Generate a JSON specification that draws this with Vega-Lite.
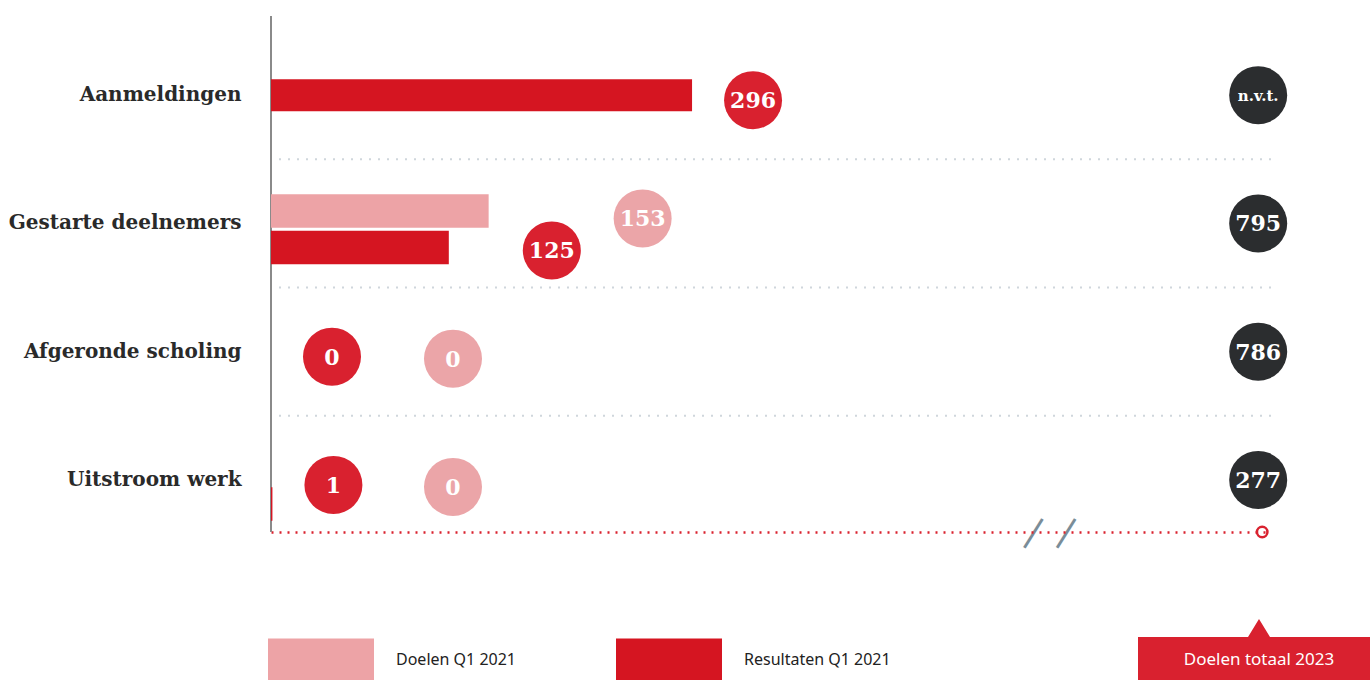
{
  "$schema": "https://vega.github.io/schema/vega-lite/v6.json",
  "width": 1000,
  "height": 516,
  "autosize": {"type": "none"},
  "padding": {"left": 271, "top": 16, "right": 99, "bottom": 148},
  "background": "white",
  "config": {"view": {"stroke": null}, "font": "Noto Sans"},
  "datasets": {
    "q1": [
      {"cat": "Aanmeldingen", "series": "Resultaten Q1 2021", "value": 296},
      {"cat": "Gestarte deelnemers", "series": "Doelen Q1 2021", "value": 153},
      {"cat": "Gestarte deelnemers", "series": "Resultaten Q1 2021", "value": 125},
      {"cat": "Afgeronde scholing", "series": "Doelen Q1 2021", "value": 0},
      {"cat": "Afgeronde scholing", "series": "Resultaten Q1 2021", "value": 0},
      {"cat": "Uitstroom werk", "series": "Doelen Q1 2021", "value": 0},
      {"cat": "Uitstroom werk", "series": "Resultaten Q1 2021", "value": 1}
    ],
    "totals": [
      {"cat": "Aanmeldingen", "total": "n.v.t."},
      {"cat": "Gestarte deelnemers", "total": "795"},
      {"cat": "Afgeronde scholing", "total": "786"},
      {"cat": "Uitstroom werk", "total": "277"}
    ]
  },
  "data": {"name": "q1"},
  "layer": [
    {
      "data": {"name": "totals"},
      "transform": [{"filter": "datum.cat != 'Uitstroom werk'"}],
      "mark": {"type": "rule", "color": "#cfd6dc", "strokeWidth": 2, "strokeDash": [2, 7]},
      "encoding": {
        "y": {"field": "cat", "type": "nominal", "bandPosition": 1}
      }
    },
    {
      "mark": {"type": "rule", "color": "#8a8a8a", "strokeWidth": 1.5},
      "encoding": {
        "x": {"datum": 0, "type": "quantitative"}
      }
    },
    {
      "transform": [{"filter": "datum.cat == 'Aanmeldingen'"}],
      "mark": {"type": "bar", "height": 32},
      "encoding": {
        "y": {"field": "cat", "type": "nominal"},
        "x": {"field": "value", "type": "quantitative"},
        "color": {"field": "series", "type": "nominal"}
      }
    },
    {
      "transform": [{"filter": "datum.cat != 'Aanmeldingen'"}],
      "mark": {"type": "bar"},
      "encoding": {
        "y": {
          "field": "cat", "type": "nominal",
          "sort": ["Aanmeldingen", "Gestarte deelnemers", "Afgeronde scholing", "Uitstroom werk"],
          "scale": {"domain": ["Aanmeldingen", "Gestarte deelnemers", "Afgeronde scholing", "Uitstroom werk"], "range": [15, 528], "paddingInner": 0, "paddingOuter": 0},
          "axis": {
            "title": null, "ticks": false, "domain": false,
            "labelFont": "DejaVu Serif", "labelFontWeight": "bold", "labelFontSize": 20,
            "labelColor": "#2a2a2a", "labelPadding": 30, "labelLimit": 400
          }
        },
        "yOffset": {
          "field": "series", "type": "nominal",
          "scale": {"domain": ["Doelen Q1 2021", "Resultaten Q1 2021"], "range": [35, 105], "paddingInner": 0.086, "paddingOuter": 0}
        },
        "x": {
          "field": "value", "type": "quantitative",
          "scale": {"domain": [0, 703], "nice": false},
          "axis": {
            "title": null, "grid": false, "ticks": false,
            "domainColor": "#d9222f", "domainWidth": 2.5, "domainDash": [2, 6],
            "values": [536, 559],
            "labelExpr": "'|'",
            "labelFont": "DejaVu Sans", "labelFontSize": 34, "labelColor": "#7a8d98",
            "labelAngle": 32, "labelAlign": "center", "labelBaseline": "middle",
            "labelPadding": 0, "labelOverlap": false, "labelFlush": false
          }
        },
        "color": {
          "field": "series", "type": "nominal",
          "scale": {"domain": ["Doelen Q1 2021", "Resultaten Q1 2021"], "range": ["#eda3a6", "#d51521"]},
          "legend": {
            "orient": "none", "legendX": -3, "legendY": 591, "direction": "horizontal",
            "title": null, "padding": 0,
            "symbolType": "M-1,-0.41H1V0.41H-1Z", "symbolSize": 11236,
            "symbolOpacity": 1, "symbolStrokeWidth": 0,
            "labelFont": "Noto Sans", "labelFontSize": 16, "labelColor": "#222222",
            "labelOffset": 22, "columnPadding": 99
          }
        }
      }
    },
    {
      "transform": [{"filter": "datum.series == 'Resultaten Q1 2021' && datum.cat != 'Gestarte deelnemers'"}],
      "encoding": {
        "y": {"field": "cat", "type": "nominal"},
        "x": {"field": "value", "type": "quantitative"}
      },
      "layer": [
        {"mark": {"type": "point", "shape": "circle", "filled": true, "size": 3364, "color": "#d9212f", "xOffset": 61, "yOffset": 5},
         "encoding": {
           "opacity": {
             "datum": "Doelen totaal 2023", "type": "ordinal",
             "scale": {"range": [1]},
             "legend": {
               "orient": "none", "legendX": 938, "legendY": 594, "title": null, "padding": 0,
               "symbolType": "M-2.42,-0.46H-0.22L0,-0.82L0.22,-0.46H2.42V0.46H-2.42Z",
               "symbolSize": 10000, "symbolStrokeWidth": 0, "symbolOpacity": 1,
               "labelFont": "Noto Sans", "labelFontSize": 17, "labelColor": "white",
               "labelAlign": "center", "labelOffset": -50
             }
           }
         }},
        {"mark": {"type": "text", "color": "white", "font": "DejaVu Serif", "fontWeight": "bold", "fontSize": 22, "baseline": "middle", "align": "center", "xOffset": 61, "yOffset": 6},
         "encoding": {"text": {"field": "value", "type": "quantitative"}}}
      ]
    },
    {
      "transform": [{"filter": "datum.series == 'Doelen Q1 2021' && datum.cat != 'Gestarte deelnemers'"}],
      "encoding": {
        "y": {"field": "cat", "type": "nominal"},
        "x": {"field": "value", "type": "quantitative"}
      },
      "layer": [
        {"mark": {"type": "point", "shape": "circle", "filled": true, "size": 3364, "opacity": 1, "color": "#eba5a8", "xOffset": 182, "yOffset": 7}},
        {"mark": {"type": "text", "color": "white", "font": "DejaVu Serif", "fontWeight": "bold", "fontSize": 22, "baseline": "middle", "align": "center", "xOffset": 182, "yOffset": 8},
         "encoding": {"text": {"field": "value", "type": "quantitative"}}}
      ]
    },
    {
      "transform": [{"filter": "datum.series == 'Doelen Q1 2021' && datum.cat == 'Gestarte deelnemers'"}],
      "encoding": {
        "y": {"field": "cat", "type": "nominal"},
        "x": {"field": "value", "type": "quantitative"}
      },
      "layer": [
        {"mark": {"type": "point", "shape": "circle", "filled": true, "size": 3364, "opacity": 1, "color": "#eba5a8", "xOffset": 154, "yOffset": -5}},
        {"mark": {"type": "text", "color": "white", "font": "DejaVu Serif", "fontWeight": "bold", "fontSize": 22, "baseline": "middle", "align": "center", "xOffset": 154, "yOffset": -4},
         "encoding": {"text": {"field": "value", "type": "quantitative"}}}
      ]
    },
    {
      "transform": [{"filter": "datum.series == 'Resultaten Q1 2021' && datum.cat == 'Gestarte deelnemers'"}],
      "encoding": {
        "y": {"field": "cat", "type": "nominal"},
        "x": {"field": "value", "type": "quantitative"}
      },
      "layer": [
        {"mark": {"type": "point", "shape": "circle", "filled": true, "size": 3364, "opacity": 1, "color": "#d9212f", "xOffset": 103, "yOffset": 27}},
        {"mark": {"type": "text", "color": "white", "font": "DejaVu Serif", "fontWeight": "bold", "fontSize": 22, "baseline": "middle", "align": "center", "xOffset": 103, "yOffset": 28},
         "encoding": {"text": {"field": "value", "type": "quantitative"}}}
      ]
    },
    {
      "data": {"name": "totals"},
      "mark": {"type": "point", "shape": "circle", "filled": true, "size": 3364, "opacity": 1, "color": "#2b2d2f"},
      "encoding": {
        "y": {"field": "cat", "type": "nominal"},
        "x": {"datum": 694, "type": "quantitative"}
      }
    },
    {
      "data": {"name": "totals"},
      "mark": {"type": "text", "color": "white", "font": "DejaVu Serif", "fontWeight": "bold", "baseline": "middle", "align": "center", "yOffset": 1},
      "encoding": {
        "y": {"field": "cat", "type": "nominal"},
        "x": {"datum": 694, "type": "quantitative"},
        "text": {"field": "total", "type": "nominal"},
        "size": {"condition": {"test": "datum.total == 'n.v.t.'", "value": 15}, "value": 22}
      }
    },
    {
      "data": {"name": "totals"},
      "transform": [{"filter": "datum.cat == 'Uitstroom werk'"}],
      "mark": {"type": "point", "shape": "circle", "filled": false, "size": 110, "color": "#d9222f", "strokeWidth": 2.5, "opacity": 1, "yOffset": -12, "xOffset": 4},
      "encoding": {
        "y": {"field": "cat", "type": "nominal", "bandPosition": 1},
        "x": {"datum": 694, "type": "quantitative"}
      }
    }
  ]
}
